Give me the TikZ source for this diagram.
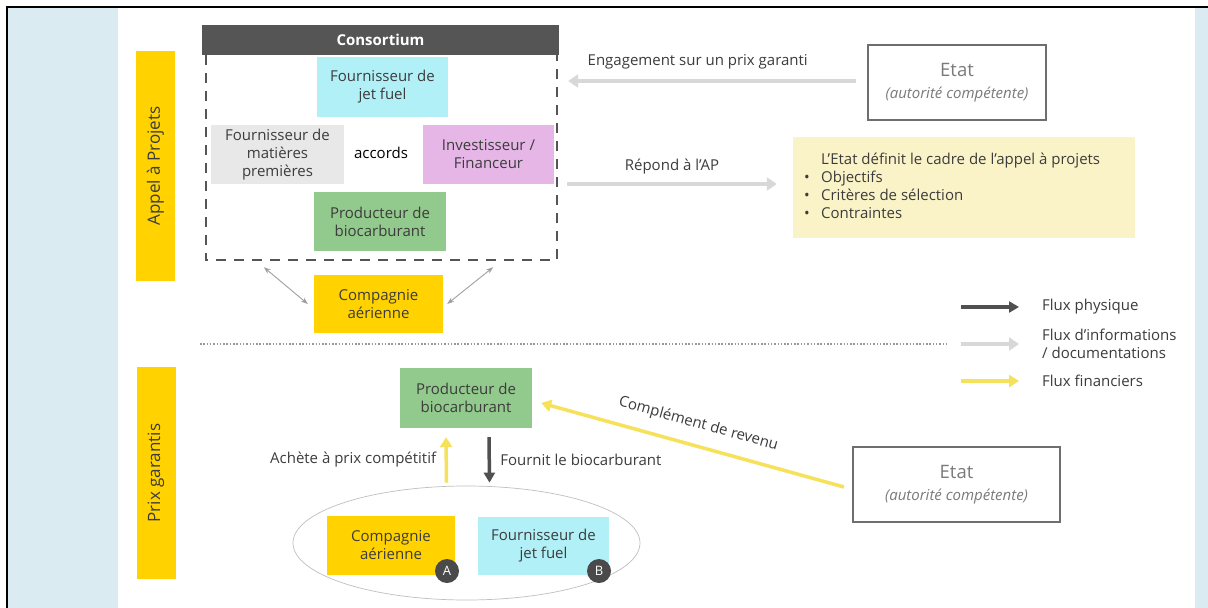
\documentclass[tikz,border=0pt]{standalone}
\usepackage{fontspec}
\setmainfont{Open Sans}
\usetikzlibrary{arrows.meta,shapes.geometric,calc}

\definecolor{panelblue}{HTML}{DAECF2}
\definecolor{eyyellow}{HTML}{FFD200}
\definecolor{jetcyan}{HTML}{B2F0F7}
\definecolor{matgray}{HTML}{E8E8E8}
\definecolor{invpink}{HTML}{E6B6E6}
\definecolor{prodgreen}{HTML}{92C98C}
\definecolor{headgray}{HTML}{555555}
\definecolor{palecadre}{HTML}{FBF3C8}
\definecolor{infogray}{HTML}{D8D8D8}
\definecolor{physgray}{HTML}{505050}
\definecolor{finyellow}{HTML}{F6E15A}
\definecolor{etatline}{HTML}{6E6E6E}
\definecolor{etattxt}{HTML}{7A7A7A}
\definecolor{txtgray}{HTML}{3C3C3C}
\definecolor{badgegray}{HTML}{4A4A4A}

\newcommand\boxfont{\fontsize{15}{18}\selectfont}

\begin{document}
\begin{tikzpicture}[x=1pt, y=-1pt, font=\boxfont,
    box/.style={rectangle, inner sep=0pt, align=center, text=txtgray, minimum height=59pt},
    etatbox/.style={rectangle, draw=etatline, line width=2pt, fill=white, minimum height=75pt, align=center, text=etattxt, font=\fontsize{15}{22}\selectfont},
    bar/.style={rectangle, fill=eyyellow, rotate=90, minimum height=39pt, inner sep=0pt, text=txtgray, font=\fontsize{17}{18}\selectfont},
    dashbox/.style={draw=headgray, line width=2.5pt, dash pattern=on 10pt off 8pt},
    sepline/.style={draw=gray!80, line width=2.5pt, dash pattern=on 1.5pt off 1.8pt},
    info/.style={draw=infogray, line width=4pt, -{Triangle[length=10pt,width=13pt]}},
    phys/.style={draw=physgray, line width=3.5pt, -{Triangle[length=10pt,width=11pt]}},
    fin/.style={draw=finyellow, line width=3.5pt, -{Triangle[length=10pt,width=12pt]}},
    link/.style={draw=gray!75, line width=0.9pt, {Stealth[length=7pt,width=5pt]}-{Stealth[length=7pt,width=5pt]}},
    badge/.style={circle, fill=badgegray, text=white, minimum size=24pt, inner sep=0pt, font=\fontsize{13}{13}\selectfont},
    legend/.style={anchor=west, inner sep=0pt, align=left, text=txtgray}]
    \useasboundingbox (0,0) rectangle (1208,608);
    \fill[white] (0,0) rectangle (1208,608);
    \fill[panelblue] (8,7) rectangle (118,608);
    \fill[panelblue] (1195,7) rectangle (1208,608);
    \draw[black, line width=2pt] (7,608) -- (7,6.5) -- (1208,6.5);

    \node[bar, minimum width=230pt] (appelbar) at (155.5,166) {Appel à Projets};
    \node[bar, minimum width=212pt] (prixbar) at (156,473) {Prix garantis};

    \node[fill=headgray, text=white, font=\boxfont\bfseries, minimum width=357pt, minimum height=30pt, inner sep=0pt] (head) at (380.5,40) {Consortium};
    \node[minimum width=351pt, minimum height=205pt, inner sep=0pt] (consort) at (381.5,157.5) {};
    \draw[dashbox] (consort.north west) -- (consort.south west) -- (consort.south east) -- (consort.north east);
    \node[box, fill=jetcyan, minimum width=131pt, minimum height=60pt] (jet1) at (382.5,87) {Fournisseur de\\jet fuel};
    \node[box, fill=matgray, minimum width=133pt] (mat1) at (277.5,154.5) {Fournisseur de\\matières\\premières};
    \node[text=black] (accords) at (381,153) {accords};
    \node[box, fill=invpink, minimum width=131pt] (inv1) at (488.5,154.5) {Investisseur /\\Financeur};
    \node[box, fill=prodgreen, minimum width=132pt] (prod1) at (380,221.5) {Producteur de\\biocarburant};
    \node[box, fill=eyyellow, minimum width=129pt, minimum height=58pt] (cie1) at (378.5,304) {Compagnie\\aérienne};
    \draw[link] ($(consort.south west)+(58,7)$) -- ($(cie1.west)+(-6,0)$);
    \draw[link] ($(consort.south east)+(-64,7)$) -- ($(cie1.east)+(4,0)$);

    \node[etatbox, minimum width=178pt] (etat1) at (957,82.5) {{\fontsize{18.5}{22}\selectfont Etat}\\\itshape (autorité compétente)};
    \draw[info] ($(etat1.west)+(-11,-1.5)$) -- ($(consort.east |- etat1.west)+(11,-1.5)$)
        node[pos=0.55, yshift=19pt, text=txtgray] {Engagement sur un prix garanti};

    \node[fill=palecadre, minimum width=342pt, minimum height=101pt, inner sep=0pt] (cadre) at (964,187.5) {};
    \node[anchor=west, inner sep=0pt, text=txtgray] (cadretxt) at ($(cadre.west)+(11,0)$) {\begin{tabular}{@{}l@{\hspace{11.5pt}}l@{}}
        & L’Etat définit le cadre de l’appel à projets\\
        \textbullet & Objectifs\\
        \textbullet & Critères de sélection\\
        \textbullet & Contraintes
    \end{tabular}};
    \draw[info] ($(consort.east |- cadre.west)+(10,-3.5)$) -- ($(cadre.west)+(-16,-3.5)$)
        node[midway, yshift=17pt, text=txtgray] {Répond à l’AP};

    \draw[sepline] (200,344) -- (947,344);

    \node[legend] (lgphys) at (1042,307) {Flux physique};
    \node[legend] (lginfo) at (1042,344) {Flux d’informations\\/ documentations};
    \node[legend] (lgfin) at (1042,381) {Flux financiers};
    \draw[phys] ($(lgphys.west)+(-81,0)$) -- ($(lgphys.west)+(-23,0)$);
    \draw[info] ($(lginfo.west)+(-81,0)$) -- ($(lginfo.west)+(-23,0)$);
    \draw[fin] ($(lgfin.west)+(-81,0)$) -- ($(lgfin.west)+(-23,0)$);

    \node[box, fill=prodgreen, minimum width=132pt, minimum height=60pt] (prod2) at (466,398) {Producteur de\\biocarburant};
    \node[ellipse, draw=gray!50, line width=0.7pt, minimum width=347pt, minimum height=114pt, inner sep=0pt] (ell) at (466.5,543) {};
    \node[box, fill=eyyellow, minimum width=128pt] (cie2) at (391,545.5) {Compagnie\\aérienne};
    \node[box, fill=jetcyan, minimum width=131pt, minimum height=58pt] (jet2) at (543.5,546) {Fournisseur de\\jet fuel};
    \node[badge] (badgeA) at (447,571) {A};
    \node[badge] (badgeB) at (599,571) {B};
    \draw[fin] ($(ell.north)+(-20,-3)$) -- ($(prod2.south)+(-20,9)$)
        node[midway, left=5pt, text=txtgray] {Achète à prix compétitif};
    \draw[phys] ($(prod2.south)+(23,9)$) -- ($(ell.north)+(23,-3)$)
        node[midway, right=6pt, text=txtgray] {Fournit le biocarburant};

    \node[etatbox, minimum width=207pt] (etat2) at (956.5,484.5) {{\fontsize{18.5}{22}\selectfont Etat}\\\itshape (autorité compétente)};
    \draw[fin] ($(etat2.west)+(-8,2.5)$) -- ($(prod2.east)+(9,5)$)
        node[midway, sloped, above=9pt, text=txtgray] {Complément de revenu};
\end{tikzpicture}
\end{document}
